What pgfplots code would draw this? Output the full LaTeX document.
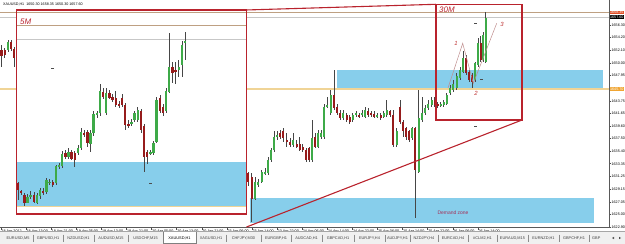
\documentclass[border=0pt]{standalone}
\usepackage{fontspec}
\setmainfont{Liberation Sans}
\usepackage{pgfplots}
\usepackage{pgfplotstable}
\pgfplotsset{compat=1.18}

\definecolor{bull}{RGB}{62,170,72}
\definecolor{bear}{RGB}{150,28,28}
\definecolor{wick}{RGB}{70,70,70}
\definecolor{zone}{RGB}{135,206,235}
\definecolor{srline}{RGB}{240,212,150}
\definecolor{tanline}{RGB}{190,160,130}
\definecolor{boxred}{RGB}{185,35,45}
\definecolor{pen}{RGB}{190,140,140}
\definecolor{numred}{RGB}{190,50,50}
\definecolor{demand}{RGB}{165,45,85}
\definecolor{tabbg}{RGB}{240,240,240}
\definecolor{lblred}{RGB}{225,80,40}
\definecolor{lblorange}{RGB}{240,165,50}

\newcommand\tk{\fontsize{3.7}{4.2}\selectfont}
\newcommand\tb{\fontsize{3.9}{4.4}\selectfont}

% H1 chart candles: x = bar position, o h l c = price
\pgfplotstableread{
x o h l c
1.5 1652.2 1653.0 1649.4 1651.2
4.7 1652.2 1652.5 1650.8 1651.3
7.9 1652.2 1653.8 1651.8 1653.5
11.0 1653.4 1653.8 1652.0 1652.3
14.2 1652.3 1652.6 1649.4 1650.9
248.3 1631.9 1632.0 1629.6 1630.4
251.7 1631.2 1631.8 1623.8 1627.6
255.0 1627.6 1631.2 1627.4 1630.4
258.3 1629.8 1630.9 1629.5 1630.4
261.7 1630.4 1632.4 1630.1 1632.0
265.0 1631.8 1632.6 1631.5 1632.0
268.3 1631.8 1634.4 1631.5 1634.0
271.3 1634.0 1636.0 1633.7 1635.6
274.3 1635.6 1638.7 1635.3 1637.8
277.3 1637.8 1638.7 1637.3 1638.1
280.3 1638.4 1638.9 1637.5 1637.8
283.3 1638.7 1639.2 1637.0 1637.6
286.7 1637.3 1638.4 1636.2 1637.0
290.0 1637.0 1637.6 1636.2 1636.5
293.3 1636.5 1638.4 1636.2 1637.3
296.7 1636.7 1637.3 1635.9 1636.2
299.7 1636.7 1637.8 1635.4 1635.6
302.7 1636.2 1636.7 1635.3 1635.6
306.0 1635.6 1636.0 1633.7 1634.0
309.3 1635.9 1636.2 1633.7 1634.0
312.3 1634.0 1640.6 1633.7 1637.6
315.3 1637.8 1638.4 1635.9 1636.2
318.3 1636.2 1638.9 1635.9 1638.4
321.3 1637.8 1638.9 1637.5 1638.4
324.3 1637.8 1643.3 1637.5 1642.8
327.3 1642.8 1644.4 1642.5 1643.1
330.7 1641.7 1645.5 1641.4 1644.7
334.0 1644.7 1648.9 1642.2 1642.5
337.3 1642.8 1643.3 1641.4 1641.7
340.3 1641.7 1642.2 1640.6 1640.9
343.3 1640.9 1642.2 1640.6 1641.7
346.7 1641.4 1641.7 1640.3 1640.6
349.7 1641.1 1641.4 1640.0 1640.3
352.7 1640.6 1641.7 1640.3 1641.4
356.0 1641.4 1642.0 1641.1 1641.7
359.3 1641.4 1641.7 1640.9 1641.1
362.3 1641.4 1642.2 1641.1 1641.7
365.3 1641.1 1642.8 1640.9 1642.2
368.3 1642.0 1642.5 1641.1 1641.4
371.3 1641.7 1642.0 1641.1 1641.4
374.3 1641.6 1642.0 1640.9 1641.1
377.3 1641.1 1641.7 1640.9 1641.4
380.7 1641.4 1641.7 1640.6 1641.0
383.7 1641.1 1642.0 1640.9 1641.7
386.7 1641.4 1643.9 1641.1 1642.2
390.0 1642.0 1642.2 1641.1 1641.4
393.3 1641.4 1642.2 1636.2 1636.5
396.7 1636.5 1639.2 1636.2 1638.7
400.0 1642.8 1643.9 1640.0 1640.3
403.3 1640.3 1640.6 1637.8 1638.7
406.3 1639.2 1639.5 1637.3 1637.8
409.3 1638.7 1639.0 1637.0 1637.3
412.3 1637.6 1639.5 1637.3 1639.2
415.3 1639.2 1639.5 1624.3 1632.3
418.7 1632.0 1645.5 1631.8 1640.9
422.0 1640.6 1644.4 1640.3 1641.7
425.3 1641.7 1643.1 1641.4 1642.5
428.3 1642.5 1643.9 1642.2 1643.3
431.7 1643.1 1644.4 1642.8 1643.9
434.7 1643.9 1644.4 1642.8 1643.1
437.7 1643.3 1643.6 1642.5 1642.9
440.7 1643.0 1643.6 1642.8 1643.2
443.7 1643.1 1643.9 1642.8 1643.6
446.7 1643.3 1645.0 1643.1 1644.7
450.0 1645.0 1646.4 1644.7 1645.8
453.3 1645.5 1647.2 1645.2 1646.6
456.7 1645.8 1648.3 1645.5 1647.8
460.0 1647.5 1649.4 1647.2 1648.9
463.0 1648.6 1652.0 1648.3 1650.8
466.0 1650.8 1651.3 1648.0 1648.3
469.3 1648.6 1648.9 1646.9 1647.2
472.3 1648.0 1648.3 1645.8 1646.9
475.3 1647.2 1650.2 1646.9 1650.0
478.0 1649.7 1654.1 1649.4 1653.3
480.7 1653.3 1654.4 1650.2 1650.5
483.0 1650.5 1655.2 1650.2 1654.6
485.7 1650.2 1658.5 1650.0 1657.4
}\hone

% 5M inset candles
\pgfplotstableread{
x o h l c
18.0 1630.1 1630.4 1627.4 1629.0
21.2 1628.8 1629.0 1628.2 1628.5
24.3 1628.2 1628.5 1626.3 1626.8
27.5 1626.9 1628.3 1626.8 1627.9
30.6 1627.9 1628.8 1627.6 1628.2
33.8 1628.2 1628.6 1626.9 1627.1
36.9 1626.9 1628.6 1626.7 1628.2
40.1 1628.0 1629.4 1627.6 1629.0
43.2 1628.8 1629.3 1628.2 1628.5
46.4 1628.7 1631.0 1628.4 1630.7
49.5 1630.1 1630.8 1629.8 1630.4
52.7 1630.3 1630.6 1629.5 1629.8
55.8 1630.1 1633.2 1629.8 1632.9
59.0 1632.9 1633.5 1632.4 1633.2
62.1 1632.9 1635.5 1632.6 1634.9
65.3 1635.1 1635.6 1634.2 1634.5
68.4 1634.5 1635.9 1634.1 1635.3
71.6 1635.3 1635.7 1633.9 1634.2
74.7 1635.1 1635.4 1632.9 1634.0
77.9 1635.1 1636.4 1634.8 1635.9
81.0 1635.9 1639.2 1635.6 1638.6
84.2 1638.5 1639.0 1637.7 1638.1
87.3 1638.6 1639.0 1636.1 1636.7
90.5 1636.7 1638.9 1635.3 1638.4
93.6 1638.4 1642.0 1638.0 1641.6
96.8 1641.4 1642.1 1641.0 1641.7
99.9 1641.7 1646.6 1641.3 1645.3
103.1 1645.3 1645.8 1644.0 1644.4
106.2 1641.7 1645.8 1641.4 1645.0
109.4 1645.1 1645.5 1644.0 1644.3
112.5 1644.4 1644.8 1643.5 1643.9
115.7 1644.2 1645.4 1642.7 1643.1
118.8 1643.3 1643.8 1642.6 1643.0
122.0 1644.3 1644.8 1642.8 1643.1
125.1 1643.1 1643.4 1638.9 1639.8
128.3 1640.0 1640.6 1639.2 1639.6
131.4 1639.9 1640.7 1639.6 1640.3
134.6 1640.6 1642.1 1640.2 1641.7
137.7 1640.6 1642.8 1640.3 1642.2
140.9 1642.0 1642.4 1638.5 1638.9
144.0 1639.6 1640.0 1632.0 1634.5
147.2 1635.3 1635.7 1633.4 1634.5
150.3 1635.1 1635.7 1634.8 1635.3
153.5 1635.1 1637.2 1634.8 1636.8
156.6 1637.0 1644.4 1636.7 1643.9
159.8 1644.2 1644.7 1641.7 1642.0
162.9 1642.8 1643.3 1641.3 1641.7
166.1 1642.0 1645.9 1641.7 1645.3
169.2 1645.3 1654.9 1645.0 1649.4
172.4 1649.4 1650.2 1646.7 1648.3
175.5 1648.8 1650.2 1646.6 1648.6
178.7 1648.8 1650.5 1647.7 1649.4
181.8 1649.7 1653.6 1647.7 1653.0
185.0 1653.3 1655.2 1650.5 1653.7
}\fivem

\pgfplotstableread{
x y
52.7 1649.13
150.3 1630.12
475.0 1656.60
481.0 1647.36
475.0 1639.60
}\dashes

\pgfplotsset{
  candle/.style={draw=none, mark=none, forget plot,
    error bars/y dir=both, error bars/y explicit, error bars/error mark=none},
}

\begin{document}
\begin{tikzpicture}
\begin{axis}[
  at={(0,0)}, anchor=south west,
  scale only axis, width=609bp, height=227.5bp,
  xmin=0, xmax=609, ymin=1622.81, ymax=1660.42,
  axis x line*=bottom, axis y line*=right,
  axis line style={draw=black!65, line width=0.6bp},
  clip=false,
  tick align=outside, major tick length=2bp,
  tick style={draw=black!70, line width=0.5bp},
  /pgf/number format/assume math mode=true,
  xtick={1,26.1,51.2,76.3,101.4,126.5,151.6,176.7,201.8,226.9,252,277.1,302.2,327.3,352.4,377.5,402.6,427.7,452.8,477.9},
  xticklabels={18 Apr 2012,18 Apr 13:00,18 Apr 21:00,19 Apr 05:00,19 Apr 13:00,19 Apr 21:00,20 Apr 05:00,20 Apr 13:00,20 Apr 21:00,23 Apr 06:00,23 Apr 14:00,23 Apr 22:00,24 Apr 06:00,24 Apr 14:00,24 Apr 22:00,25 Apr 06:00,25 Apr 14:00,25 Apr 22:00,26 Apr 06:00,26 Apr 14:00},
  xticklabel style={anchor=west, font=\tk, inner sep=0.4bp, yshift=-2bp},
  ytick={1622.90,1625.00,1627.05,1629.15,1631.25,1633.35,1635.40,1637.50,1639.60,1641.65,1643.75,1645.85,1647.95,1650.00,1652.10,1654.20,1656.30},
  yticklabels={1622.90,1625.00,1627.05,1629.15,1631.25,1633.35,1635.40,1637.50,1639.60,1641.65,1643.75,{},1647.95,1650.00,1652.10,1654.20,1656.30},
  yticklabel style={anchor=west, font=\tk, inner sep=0.4bp},
]
% zones and levels of the H1 chart
\fill[zone] (337,1648.85) rectangle (603,1645.70);
\fill[zone] (250,1627.74) rectangle (594,1623.61);
\draw[srline, line width=1.6bp] (0,1645.70) -- (609,1645.70);
\draw[black!22, line width=0.6bp] (0,1657.60) -- (609,1657.60);

% 5M inset window
\fill[white] (16.5,1658.77) rectangle (246.5,1625.05);
\fill[zone] (17,1633.69) rectangle (246,1626.37);
\draw[srline, line width=1.4bp] (17,1626.25) -- (246,1626.25);
\draw[tanline, line width=0.6bp] (17,1656.29) -- (246,1656.29);
\draw[black!22, line width=0.6bp] (17,1653.92) -- (246,1653.92);
\draw[tanline, line width=0.6bp] (0,1658.35) -- (609,1658.35);

% candles
\addplot[candle, error bars/error bar style={draw=wick, line width=0.5bp}] table[x=x, y expr={(\thisrow{h}+\thisrow{l})/2}, y error expr={(\thisrow{h}-\thisrow{l})/2}] {\hone};
\addplot[candle, error bars/error bar style={draw=bull, line width=2.1bp}] table[x=x, y expr={\thisrow{c}>=\thisrow{o} ? (\thisrow{o}+\thisrow{c})/2 : nan}, y error expr={max(abs(\thisrow{c}-\thisrow{o})/2,0.07)}] {\hone};
\addplot[candle, error bars/error bar style={draw=bear, line width=2.1bp}] table[x=x, y expr={\thisrow{c}<\thisrow{o} ? (\thisrow{o}+\thisrow{c})/2 : nan}, y error expr={max(abs(\thisrow{c}-\thisrow{o})/2,0.07)}] {\hone};

\addplot[candle, error bars/error bar style={draw=wick, line width=0.5bp}] table[x=x, y expr={(\thisrow{h}+\thisrow{l})/2}, y error expr={(\thisrow{h}-\thisrow{l})/2}] {\fivem};
\addplot[candle, error bars/error bar style={draw=bull, line width=2.4bp}] table[x=x, y expr={\thisrow{c}>=\thisrow{o} ? (\thisrow{o}+\thisrow{c})/2 : nan}, y error expr={max(abs(\thisrow{c}-\thisrow{o})/2,0.07)}] {\fivem};
\addplot[candle, error bars/error bar style={draw=bear, line width=2.4bp}] table[x=x, y expr={\thisrow{c}<\thisrow{o} ? (\thisrow{o}+\thisrow{c})/2 : nan}, y error expr={max(abs(\thisrow{c}-\thisrow{o})/2,0.07)}] {\fivem};

\addplot[only marks, mark=-, mark size=1.5bp, draw=black!70, forget plot] table {\dashes};

% annotation boxes and lines
\draw[boxred, line width=1.2bp] (16.5,1658.77) rectangle (246.5,1625.05);
\draw[boxred, line width=1.2bp] (436,1659.71) rectangle (522,1640.58);
\draw[boxred, line width=1.1bp] (246.5,1658.77) -- (436,1659.71);
\draw[boxred, line width=1.1bp] (246.5,1622.89) -- (522,1640.58);
\draw[pen, line width=0.5bp] (448,1645.87) -- (462.7,1653.26) -- (473.3,1646.65) -- (496.7,1656.57);

\node[text=boxred, font=\fontsize{8}{8}\selectfont\itshape, anchor=west, inner sep=0] at (20,1656.78) {5M};
\node[text=boxred, font=\fontsize{8}{8}\selectfont\itshape, anchor=west, inner sep=0] at (439,1658.77) {30M};
\node[text=numred, font=\fontsize{6}{6}\selectfont\itshape, inner sep=0] at (456,1653.3) {1};
\node[text=numred, font=\fontsize{6}{6}\selectfont\itshape, inner sep=0] at (476,1644.9) {2};
\node[text=numred, font=\fontsize{6}{6}\selectfont\itshape, inner sep=0] at (502,1656.45) {3};
\node[text=demand, font=\fontsize{5}{5}\selectfont, inner sep=0] at (453,1625.21) {Demand zone};

\node[anchor=west, font=\tk, inner sep=0] at (3,1659.76) {XAUUSD,H1\ \ 1650.30 1658.35 1650.30 1657.60};

% price labels of the horizontal lines
\node[fill=lblred, text=white, anchor=west, inner sep=0.4bp, font=\tk] at (609.5,1658.35) {1658.35};
\node[fill=black, text=white, anchor=west, inner sep=0.4bp, font=\tk] at (609.5,1657.60) {1657.60};
\node[fill=lblorange, text=white, anchor=west, inner sep=0.4bp, font=\tk] at (609.5,1645.70) {1645.70};
\end{axis}

% symbol tab bar
\fill[tabbg] (0,-4bp) rectangle (625bp,-16.5bp);
\draw[black!35, line width=0.4bp] (0,-4bp) -- (625bp,-4bp);
\fill[white] (163bp,-4bp) rectangle (196bp,-15.5bp);
\draw[black!50, line width=0.4bp] (163bp,-4bp) -- (163bp,-15.5bp) -- (196bp,-15.5bp) -- (196bp,-4bp);
\foreach \sx in {33,63,94,128,226,261,291,322,354,385,410,438,468,497,528,559,589}
  \draw[black!45, line width=0.4bp] (\sx bp,-7bp) -- (\sx bp,-14bp);
\begin{scope}[every node/.style={font=\tb, text=black!75, inner sep=0}]
\node at (18bp,-10.5bp) {EURUSD,M5};
\node at (48bp,-10.5bp) {GBPUSD,H1};
\node at (78.5bp,-10.5bp) {NZDUSD,H1};
\node at (111bp,-10.5bp) {AUDUSD,M15};
\node at (145.5bp,-10.5bp) {USDCHF,M15};
\node[text=black] at (179.5bp,-10.5bp) {XAUUSD,H1};
\node at (211bp,-10.5bp) {XAGUSD,H1};
\node at (243.5bp,-10.5bp) {CHFJPY,M30};
\node at (276bp,-10.5bp) {EURGBP,H1};
\node at (306.5bp,-10.5bp) {AUDCAD,H1};
\node at (338bp,-10.5bp) {GBPCAD,H1};
\node at (369.5bp,-10.5bp) {EURJPY,H4};
\node at (397.5bp,-10.5bp) {AUDJPY,H1};
\node at (424bp,-10.5bp) {NZDJPY,H4};
\node at (453bp,-10.5bp) {EURCAD,H4};
\node at (482.5bp,-10.5bp) {\#CLM2,H1};
\node at (512.5bp,-10.5bp) {EURAUD,M15};
\node at (543.5bp,-10.5bp) {EURNZD,H1};
\node at (574bp,-10.5bp) {GBPCHF,H1};
\node[anchor=west] at (592bp,-10.5bp) {GBP};
\end{scope}
\fill[black!70] (612bp,-10.5bp) -- (614bp,-9.3bp) -- (614bp,-11.7bp) -- cycle;
\fill[black!70] (621bp,-10.5bp) -- (619bp,-9.3bp) -- (619bp,-11.7bp) -- cycle;

\pgfresetboundingbox
\path[use as bounding box] (0bp,-16.5bp) rectangle (625bp,227.5bp);
\end{tikzpicture}
\end{document}
